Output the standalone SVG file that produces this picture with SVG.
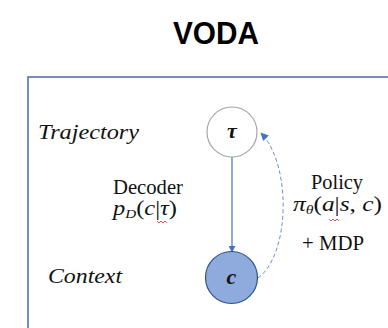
<svg xmlns="http://www.w3.org/2000/svg" width="388" height="328" viewBox="0 0 388 328">
  <style>
    .title { font-family: "Liberation Sans", Arial, sans-serif; font-weight: bold; font-size: 31px; fill: #000; }
    .lbl { font-family: "Liberation Serif", "DejaVu Serif", serif; font-size: 21px; fill: #111; }
    .it { font-family: "Liberation Serif", "DejaVu Serif", serif; font-style: italic; font-size: 21px; fill: #111; }
    .math { font-family: "Liberation Serif", "DejaVu Serif", serif; font-style: italic; font-size: 21px; fill: #111; }
    .sub { font-size: 13px; }
    .node-sym { font-family: "Liberation Serif", "DejaVu Serif", serif; font-style: italic; font-weight: bold; font-size: 22px; fill: #111; }
    .squiggle { fill: none; stroke: #e0453a; stroke-width: 0.9; }
  </style>
  <defs>
    <marker id="headSolid" viewBox="0 0 10 10" refX="9" refY="5" markerWidth="7" markerHeight="7" orient="auto" markerUnits="userSpaceOnUse">
      <path d="M0,0 L10,5 L0,10 z" fill="#4472C4"/>
    </marker>
    <marker id="headDash" viewBox="0 0 10 10" refX="9" refY="5" markerWidth="8" markerHeight="8" orient="auto" markerUnits="userSpaceOnUse">
      <path d="M0,0 L10,5 L0,10 z" fill="#4472C4"/>
    </marker>
  </defs>

  <rect width="388" height="328" fill="#ffffff"/>

  <text class="title" x="216" y="44" text-anchor="middle" textLength="86" lengthAdjust="spacingAndGlyphs">VODA</text>

  <!-- frame, open to the right and bottom -->
  <path d="M28,330 L28,77 L390,77" fill="none" stroke="#4a6aa8" stroke-width="1.5"/>

  <!-- row labels -->
  <text class="it" x="38" y="139" textLength="101" lengthAdjust="spacingAndGlyphs">Trajectory</text>
  <text class="it" x="48" y="283" textLength="74" lengthAdjust="spacingAndGlyphs">Context</text>

  <!-- edge labels -->
  <text class="lbl" x="113" y="194" textLength="70" lengthAdjust="spacingAndGlyphs">Decoder</text>
  <text class="math" x="113" y="215" textLength="64" lengthAdjust="spacingAndGlyphs">p<tspan class="sub" dy="3">D</tspan><tspan dy="-3" font-style="normal">(</tspan>c<tspan font-style="normal">|</tspan>τ<tspan font-style="normal">)</tspan></text>
  <path class="squiggle" d="M157,221 l2,2 l2,-2 l2,2 l2,-2 l2,2"/>

  <text class="lbl" x="311" y="189" textLength="52" lengthAdjust="spacingAndGlyphs">Policy</text>
  <text class="math" x="293" y="211" textLength="89" lengthAdjust="spacingAndGlyphs">π<tspan class="sub" dy="3">θ</tspan><tspan dy="-3" font-style="normal">(</tspan>a<tspan font-style="normal">|</tspan>s<tspan font-style="normal">, </tspan>c<tspan font-style="normal">)</tspan></text>
  <path class="squiggle" d="M329,219 l2,2 l2,-2 l2,2 l2,-2 l2,2"/>
  <text class="lbl" x="302" y="250" textLength="62" lengthAdjust="spacingAndGlyphs">+ MDP</text>

  <!-- connectors -->
  <g id="connectors">
    <line x1="232" y1="157" x2="232" y2="252" stroke="#4472C4" stroke-width="1.2" marker-end="url(#headSolid)"/>
    <path d="M258,278 C290,255 292,165 261,133" fill="none" stroke="#6f8fcf" stroke-width="1" stroke-dasharray="4,2.5" marker-end="url(#headDash)"/>
  </g>

  <g id="node-tau">
    <circle cx="232" cy="132" r="25" fill="#ffffff" stroke="#a6a6a6" stroke-width="1.2"/>
    <text class="node-sym" x="232" y="138" text-anchor="middle">τ</text>
  </g>

  <g id="node-c">
    <circle cx="231.5" cy="277.5" r="26" fill="#8faadc" stroke="#2f528f" stroke-width="1.2"/>
    <text class="node-sym" x="231.5" y="284" text-anchor="middle">c</text>
  </g>
</svg>
